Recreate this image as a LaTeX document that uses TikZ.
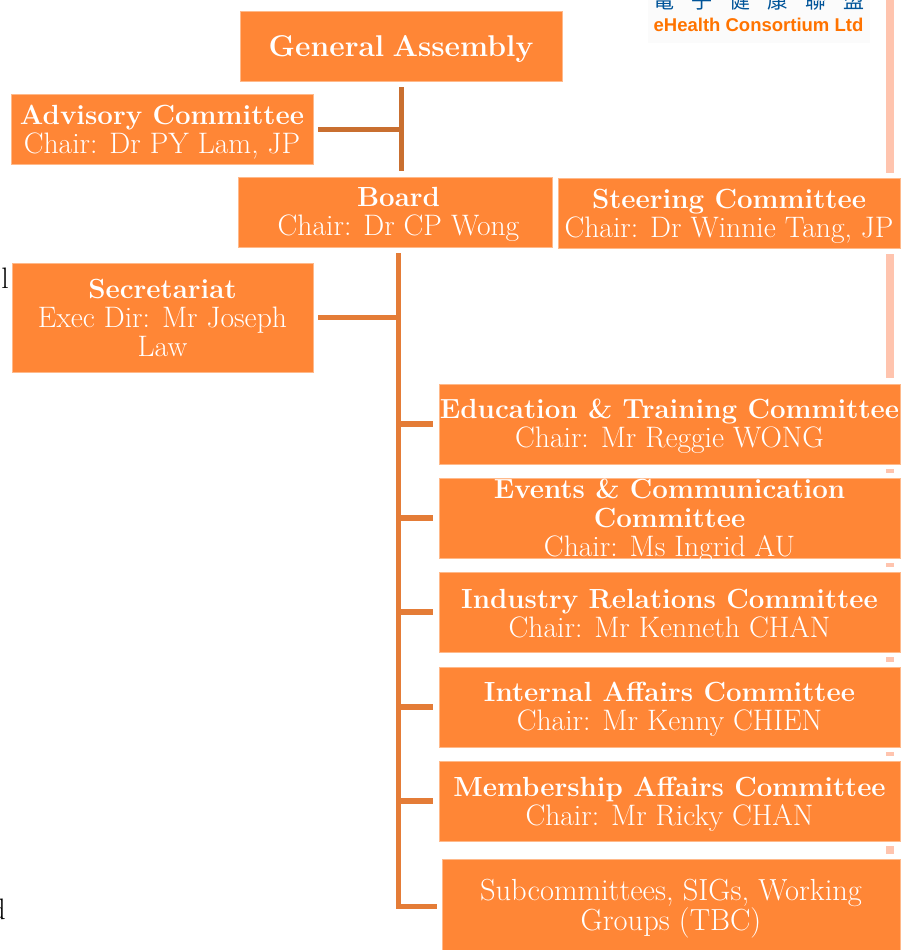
\documentclass[tikz,border=0pt]{standalone}
\usepackage{fontspec}
\usepackage{tikz}
\newfontfamily\logoSans{Liberation Sans}
\newfontfamily\logoCjk{Noto Sans CJK TC}
\definecolor{boxOrange}{HTML}{FF8636}
\definecolor{boxEdge}{HTML}{FFB98A}
\definecolor{upperBrown}{HTML}{C96F30}
\definecolor{trunkOrange}{HTML}{E47C37}
\definecolor{paleBar}{HTML}{FFC4AE}
\newcommand{\boxHead}[1]{{\fontsize{27.7}{29}\selectfont\bfseries #1}}
\newcommand{\pushDown}[1]{\rule{0pt}{#1pt}}
\tikzset{
  orgbox/.style={draw=boxEdge, line width=0.6pt, fill=boxOrange, text=white, inner sep=0pt,
    align=center, font=\fontsize{29.6}{29}\selectfont},
  upperlink/.style={draw=upperBrown, line width=5pt},
  trunklink/.style={draw=trunkOrange, line width=5.5pt},
  palelink/.style={draw=paleBar, line width=8pt},
  strayText/.style={inner sep=0pt, font=\fontsize{29.6}{29}\selectfont}
}
\begin{document}
\begin{tikzpicture}[x=1pt, y=-1pt]
  \useasboundingbox (0,0) rectangle (901,950);
  % logo
  \node[fill=black!1.5, minimum width=222pt, minimum height=43pt, inner sep=0pt] (logoBack) at (759,21.5) {};
  \node[text=blue!45!cyan!60!black, inner sep=0pt, anchor=base, font=\logoCjk\fontsize{21}{21}\selectfont] (logoCn) at (759,9)
    {電\hspace{17pt}子\hspace{17pt}健\hspace{17pt}康\hspace{17pt}聯\hspace{17pt}盟};
  \node[text=orange!90!red, inner sep=0pt, anchor=base, font=\logoSans\bfseries\fontsize{18.5}{19}\selectfont] (logoEn) at (758.5,32)
    {eHealth Consortium Ltd};
  % boxes
  \node[orgbox, minimum width=322pt, minimum height=70pt] (assembly) at (401,46)
    {\pushDown{27}{\fontsize{30}{29}\selectfont\bfseries General\hspace{-3pt} Assembly}};
  \node[orgbox, minimum width=302pt, minimum height=70pt] (advisory) at (162,129)
    {\pushDown{26}\boxHead{Advisory Committee}\\Chair: Dr PY Lam, JP};
  \node[orgbox, minimum width=314pt, minimum height=70pt] (board) at (395,212)
    {\pushDown{25}\hspace*{7pt}\boxHead{Board}\\\hspace*{7pt}Chair: Dr CP Wong};
  \node[orgbox, minimum width=342pt, minimum height=70pt] (steering) at (729,213)
    {\pushDown{26}\boxHead{Steering Committee}\\Chair: Dr Winnie Tang, JP};
  \node[orgbox, minimum width=301pt, minimum height=109pt] (secretariat) at (162.5,317.5)
    {\boxHead{Secretariat}\\Exec Dir: Mr Joseph\\Law};
  \node[orgbox, minimum width=461pt, minimum height=80pt] (education) at (669.5,424)
    {\pushDown{24}\boxHead{Education \& Training Committee}\\Chair: Mr Reggie WONG};
  \node[orgbox, minimum width=461pt, minimum height=80pt, inner ysep=-6pt] (events) at (669.5,518)
    {\pushDown{26}\boxHead{Events \& Communication}\\\boxHead{Committee}\\Chair: Ms Ingrid AU};
  \node[orgbox, minimum width=461pt, minimum height=80pt] (industry) at (669.5,612)
    {\pushDown{22}\boxHead{Industry Relations Committee}\\Chair: Mr Kenneth CHAN};
  \node[orgbox, minimum width=461pt, minimum height=80pt] (internal) at (669.5,707)
    {\pushDown{24}\boxHead{Internal Affairs Committee}\\Chair: Mr Kenny CHIEN};
  \node[orgbox, minimum width=461pt, minimum height=80pt] (membership) at (669.5,801)
    {\pushDown{25}\boxHead{Membership Affairs Committee}\\Chair: Mr Ricky CHAN};
  \node[orgbox, minimum width=458pt, minimum height=91pt, font=\fontsize{30.5}{29}\selectfont] (subgroups) at (671,904.5)
    {\pushDown{30}Subcommittees, SIGs, Working\\Groups (TBC)};
  % cut off letters at the left edge
  \node[strayText, anchor=base east] (strayL) at (9,288) {l};
  \node[strayText, anchor=base east] (strayD) at (6,919) {d};
  % upper link
  \coordinate (upperTop) at (401,87);
  \coordinate (upperEnd) at (401,171);
  \draw[upperlink] (upperTop) -- (upperEnd);
  \draw[upperlink, shorten <=5pt] (advisory.east) -- (advisory.east -| upperTop);
  % trunk and its branches
  \coordinate (trunkTop) at (398.5,253);
  \coordinate (trunkEnd) at (398.5,906.5);
  \draw[trunklink, shorten >=5pt] (trunkTop) -- (trunkEnd) -- (subgroups.west |- trunkEnd);
  \draw[trunklink, shorten <=5pt] (secretariat.east) -- (secretariat.east -| trunkTop);
  \foreach \committee in {education, events, industry, internal, membership}
    \draw[trunklink, shorten >=5.5pt] (\committee.west -| trunkTop) -- (\committee.west);
  % steering column
  \coordinate (paleTop) at (890,0);
  \draw[palelink, shorten >=5pt] (paleTop) -- (paleTop |- steering.north);
  \draw[palelink, shorten <=6pt, shorten >=6pt] (paleTop |- steering.south) -- (paleTop |- education.north);
  \foreach \upper/\lower in {education/events, events/industry, industry/internal, internal/membership, membership/subgroups}
    \draw[palelink, shorten <=5pt, shorten >=5pt] (paleTop |- \upper.south) -- (paleTop |- \lower.north);
\end{tikzpicture}
\end{document}
